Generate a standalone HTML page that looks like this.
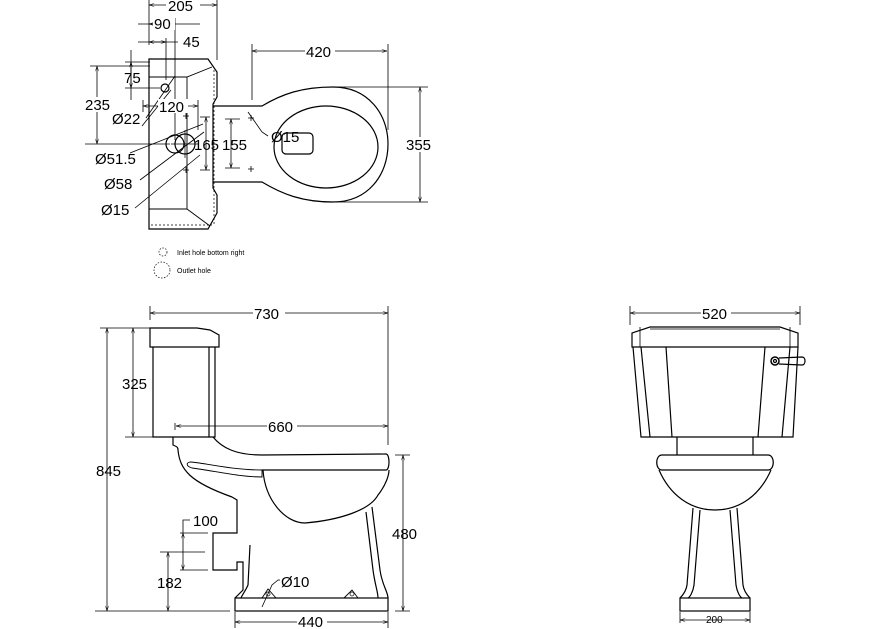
<!DOCTYPE html>
<html><head><meta charset="utf-8"><style>
html,body{margin:0;padding:0;background:#fff}
svg{display:block}
text{font-family:"Liberation Sans",sans-serif;fill:#000}
</style></head><body>
<svg width="891" height="629" viewBox="0 0 891 629" xmlns="http://www.w3.org/2000/svg">
<defs>
<marker id="a" viewBox="0 0 10 6" refX="10" refY="3" markerWidth="7" markerHeight="4" orient="auto-start-reverse"><path d="M0,0 L10,3 L0,6" fill="none" stroke="#000"/></marker>
</defs>
<g fill="none" stroke="#000" stroke-width="1.2">
<path d="M149,59 L208,59 L217,72 L217,97 L213,104 L213,188 L217,195 L217,213 L208,229 L149,229 Z"/>
<path d="M149,77 L187,77 L212,67 M187,77 L187,209 L210,226 M149,209 L187,209" stroke-width="0.9"/>
<path d="M214,70 L214,224 M151,225 L212,225" stroke-dasharray="2,2" stroke-width="0.7"/>
<path d="M213,106 L262,106 C282,94 302,87 333,87 C368,87 388,114 388,144 C388,175 368,202 333,202 C302,202 282,194 262,182 L213,182"/>
<ellipse cx="326" cy="147" rx="52" ry="41"/>
<rect x="282" y="133" width="31" height="21" rx="4"/>
<circle cx="165" cy="88" r="4"/>
<circle cx="175" cy="144" r="9"/>
<circle cx="185" cy="144" r="10"/>
<path d="M185,130 L185,158 M171,144 L199,144" stroke-width="0.7"/>
<path d="M183,116 h6 M186,113 v6 M248,118 h6 M251,115 v6 M248,169 h6 M251,166 v6 M183,170 h6 M186,167 v6" stroke-width="0.8"/>
<g stroke-width="0.8">
<path d="M149,0 V45 M217,0 V60 M175,18 V140 M166,38 V80 M252,44 V100 M388,44 V130 M330,87 H428 M330,202 H428 M90,66 H150 M85,144 H170 M125,62 H150 M125,88 H160 M143,100 V112 M198,100 V130 M200,117 H210 M200,170 H210 M225,119 H240 M225,168 H240"/>
<path d="M149,5 H217" marker-start="url(#a)" marker-end="url(#a)"/>
<path d="M149,24 H175" marker-start="url(#a)" marker-end="url(#a)"/><path d="M138,24 H200"/>
<path d="M149,42 H166" marker-start="url(#a)" marker-end="url(#a)"/><path d="M138,42 H178"/>
<path d="M252,51 H387" marker-start="url(#a)" marker-end="url(#a)"/>
<path d="M420,87 V202" marker-start="url(#a)" marker-end="url(#a)"/>
<path d="M97,66 V144" marker-start="url(#a)" marker-end="url(#a)"/>
<path d="M131,50 V100"/><path d="M131,62 V88" marker-start="url(#a)" marker-end="url(#a)"/>
<path d="M143,106 H198" marker-start="url(#a)" marker-end="url(#a)"/>
<path d="M206,117 V170" marker-start="url(#a)" marker-end="url(#a)"/>
<path d="M231,119 V168" marker-start="url(#a)" marker-end="url(#a)"/>
<path d="M146,118 L175,76 M142,126 L171,90 M130,153 L203,124 M140,180 L204,132 M135,208 L200,155 M248,112 L262,132 L268,136"/>
</g>
<circle cx="163" cy="252" r="4" stroke-dasharray="1.5,1.5" stroke-width="0.7"/>
<circle cx="162" cy="270" r="8" stroke-dasharray="1.5,1.5" stroke-width="0.7"/>

<path d="M150,328 L197,328 L210,330 L219,335 L219,347 L150,347 Z"/>
<path d="M153,347 L153,437 L215,437 L215,347 M209,347 L209,437"/>
<path d="M173,437 L173,445 C178,447 178,448 178,450 C180,470 190,482 232,497 L237,500 L237,533 L213,533 L213,570 L237,570 L237,562 L243,562 L243,590 L235,598"/>
<path d="M213,437 C222,448 236,455 262,455 L386,454 C390,454 390,470 386,470 L262,470"/>
<path d="M190,462 C200,462 230,470 262,470 L262,477 C240,477 215,471 192,468 C186,466 186,463 190,462 Z" stroke-width="0.9"/>
<path d="M263,470 C265,500 285,523 305,523 C340,520 370,510 378,495 C386,485 389,475 389,470"/>
<path d="M372,507 L380,570 C382,585 388,592 388,598 M366,512 L373,570 C375,585 378,592 378,598"/>
<path d="M250,545 L248,585 C246,590 242,595 241,598"/>
<rect x="235" y="598" width="153" height="13"/>
<path d="M262,598 L268,589 L276,598 M344,598 L352,590 L358,598" stroke-width="0.9"/>
<circle cx="268" cy="594" r="2" stroke-width="0.7"/><circle cx="352" cy="594" r="2" stroke-width="0.7"/>
<g stroke-width="0.8">
<path d="M150,306 V320 M388,306 V445 M100,328 H150 M125,437 H155 M95,611 H230 M395,455 H410 M395,611 H410 M235,612 V628 M388,612 V628 M175,423 V430 M180,533 H208 M160,552 H205 M180,570 H208"/>
<path d="M150,313 H388" marker-start="url(#a)" marker-end="url(#a)"/>
<path d="M133,328 V437" marker-start="url(#a)" marker-end="url(#a)"/>
<path d="M107,328 V611" marker-start="url(#a)" marker-end="url(#a)"/>
<path d="M176,426 H388" marker-start="url(#a)" marker-end="url(#a)"/>
<path d="M403,455 V611" marker-start="url(#a)" marker-end="url(#a)"/>
<path d="M235,622 H388" marker-start="url(#a)" marker-end="url(#a)"/>
<path d="M183,533 V570" marker-start="url(#a)" marker-end="url(#a)"/>
<path d="M183,533 V520 H190"/>
<path d="M168,552 V611" marker-start="url(#a)" marker-end="url(#a)"/>
<path d="M262,607 L272,585 L278,580 L280,580"/>
</g>

<path d="M650,327 L780,327 L798,333 L798,347 L632,347 L632,333 Z"/>
<path d="M640,327 L640,347 M790,327 L790,347 M650,329 L780,329" stroke-width="0.8"/>
<path d="M633,347 L641,437 L793,437 L798,347 M641,347 L650,437 M666,347 L672,437 M765,347 L758,437 M790,347 L782,437"/>
<path d="M677,437 V455 M753,437 V455"/>
<path d="M662,455 H768 C775,455 775,470 768,470 H662 C655,470 655,455 662,455 Z"/>
<path d="M659,470 C670,495 690,510 715,510 C740,510 760,495 771,470"/>
<path d="M693,508 L687,585 C686,592 681,597 680,598 M700,510 L694,585 C693,592 690,597 688,598 M737,508 L743,585 C744,592 749,597 750,598 M730,510 L736,585 C737,592 740,597 742,598"/>
<rect x="680" y="598" width="70" height="13"/>
<circle cx="775" cy="361" r="4" stroke-width="1.5"/><circle cx="775" cy="361" r="1.5"/>
<path d="M779,358 L802,357 C806,357 806,365 802,365 L779,364"/>
<g stroke-width="0.8">
<path d="M630,306 V325 M800,306 V325 M680,612 V623 M750,612 V623"/>
<path d="M630,313 H800" marker-start="url(#a)" marker-end="url(#a)"/>
<path d="M680,620 H750" marker-start="url(#a)" marker-end="url(#a)"/>
</g>
</g>
<g font-size="15">
<rect x="166" y="0" width="34" height="12" fill="#fff"/><text x="168" y="11">205</text>
<rect x="153" y="16" width="22" height="14" fill="#fff"/><text x="154" y="29">90</text>
<text x="183" y="47">45</text>
<rect x="305" y="44" width="30" height="14" fill="#fff"/><text x="306" y="57">420</text>
<rect x="405" y="137" width="30" height="15" fill="#fff"/><text x="406" y="150">355</text>
<rect x="84" y="97" width="30" height="15" fill="#fff"/><text x="85" y="110">235</text>
<text x="124" y="83">75</text>
<rect x="158" y="99" width="30" height="14" fill="#fff"/><text x="159" y="112">120</text>
<text x="194" y="150">165</text>
<text x="222" y="150">155</text>
<text x="112" y="124">Ø22</text>
<text x="95" y="164">Ø51.5</text>
<text x="104" y="189">Ø58</text>
<text x="101" y="215">Ø15</text>
<text x="271" y="142">Ø15</text>
<rect x="253" y="306" width="32" height="14" fill="#fff"/><text x="254" y="319">730</text>
<text x="122" y="389">325</text>
<rect x="267" y="419" width="30" height="14" fill="#fff"/><text x="268" y="432">660</text>
<text x="96" y="476">845</text>
<text x="392" y="539">480</text>
<rect x="297" y="615" width="30" height="14" fill="#fff"/><text x="298" y="627">440</text>
<text x="193" y="526">100</text>
<text x="157" y="588">182</text>
<text x="281" y="587">Ø10</text>
<rect x="701" y="306" width="30" height="14" fill="#fff"/><text x="702" y="319">520</text>
</g>
<text x="706" y="623" font-size="10">200</text>
<text x="177" y="255" font-size="7">Inlet hole bottom right</text>
<text x="177" y="273" font-size="7">Outlet hole</text>
</svg>
</body></html>
